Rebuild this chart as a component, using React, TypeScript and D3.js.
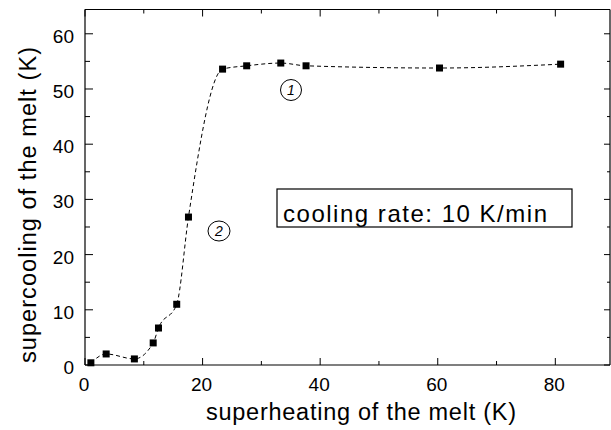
import React from "react";
import * as d3 from "d3";

const superheating = [1.0, 3.6, 8.4, 11.6, 12.5, 15.6, 17.6, 23.4, 27.5, 33.3, 37.6, 60.3, 80.9];
const supercooling = [0.4, 2.0, 1.1, 4.0, 6.7, 11.0, 26.8, 53.6, 54.2, 54.7, 54.2, 53.8, 54.5];
const xMajor = [0, 20, 40, 60, 80];
const xMinor = [10, 30, 50, 70];
const yMajor = [0, 10, 20, 30, 40, 50, 60];
const yMinor = [5, 15, 25, 35, 45, 55];

const W = 611;
const H = 430;
const FONT = "'Liberation Sans', Arial, Helvetica, sans-serif";

export default function App() {
  const left = 85;
  const right = 610;
  const top = 9.5;
  const bottom = 365;
  const x = d3.scaleLinear().domain([0, 89.3]).range([left, right]);
  const y = d3.scaleLinear().domain([0, 64.4]).range([bottom, top]);

  const pts: [number, number][] = superheating.map((v, i) => [v, supercooling[i]]);
  const line = d3
    .line<[number, number]>()
    .x((d) => x(d[0]))
    .y((d) => y(d[1]))
    .curve(d3.curveMonotoneX);

  const sq = 7;

  return (
    <svg
      width={W}
      height={H}
      style={{ position: "absolute", left: 0, top: 0, background: "#fff" }}
      fontFamily={FONT}
    >
      <rect x={0} y={0} width={W} height={H} fill="#fff" />
      <g stroke="#000" strokeWidth={1.2} fill="none">
        <line x1={left} x2={right} y1={top} y2={top} />
        <line x1={left} x2={right} y1={bottom} y2={bottom} />
        <line x1={left} x2={left} y1={top} y2={bottom} />
        <line x1={right} x2={right} y1={top} y2={bottom} />
      </g>
      <g stroke="#000" strokeWidth={1}>
        {xMajor.map((t) => (
          <g key={"xm" + t}>
            <line x1={x(t)} x2={x(t)} y1={bottom} y2={bottom - 7} />
            <line x1={x(t)} x2={x(t)} y1={top} y2={top + 7} />
          </g>
        ))}
        {xMinor.map((t) => (
          <g key={"xn" + t}>
            <line x1={x(t)} x2={x(t)} y1={bottom} y2={bottom - 4} />
            <line x1={x(t)} x2={x(t)} y1={top} y2={top + 4} />
          </g>
        ))}
        {yMajor.map((t) => (
          <g key={"ym" + t}>
            <line x1={left} x2={left + 8} y1={y(t)} y2={y(t)} />
            <line x1={right} x2={right - 6} y1={y(t)} y2={y(t)} />
          </g>
        ))}
        {yMinor.map((t) => (
          <g key={"yn" + t}>
            <line x1={left} x2={left + 5} y1={y(t)} y2={y(t)} />
            <line x1={right} x2={right - 3} y1={y(t)} y2={y(t)} />
          </g>
        ))}
      </g>
      <g fontSize={19} fill="#000">
        {xMajor.map((t) => (
          <text key={"xl" + t} x={x(t) - 1} y={391} textAnchor="middle">
            {t}
          </text>
        ))}
        {yMajor.map((t) => (
          <text key={"yl" + t} x={74} y={y(t) + 9} textAnchor="end">
            {t}
          </text>
        ))}
      </g>
      <text
        x={361}
        y={420}
        fontSize={23.5}
        textAnchor="middle"
        textLength={310}
        lengthAdjust="spacing"
      >
        superheating of the melt (K)
      </text>
      <text
        transform={`translate(36,205) rotate(-90)`}
        fontSize={23.5}
        textAnchor="middle"
        textLength={316}
        lengthAdjust="spacing"
      >
        supercooling of the melt (K)
      </text>
      <path
        d={line(pts) || ""}
        fill="none"
        stroke="#000"
        strokeWidth={1}
        strokeDasharray="4,3"
      />
      {pts.map((d, i) => (
        <rect
          key={"p" + i}
          x={x(d[0]) - sq / 2}
          y={y(d[1]) - sq / 2}
          width={sq}
          height={sq}
          fill="#000"
        />
      ))}
      <g fill="none" stroke="#000" strokeWidth={1}>
        <ellipse cx={291} cy={90} rx={10.5} ry={10.5} />
        <ellipse cx={219} cy={231} rx={11} ry={10} />
      </g>
      <g fontSize={14} fontStyle="italic" textAnchor="middle" fill="#000">
        <text x={291} y={95}>1</text>
        <text x={219} y={236}>2</text>
      </g>
      <rect x={277} y={189} width={295} height={38} fill="#fff" stroke="#000" strokeWidth={1.2} />
      <text x={283} y={222} fontSize={24} textLength={264} lengthAdjust="spacing">
        cooling rate: 10 K/min
      </text>
    </svg>
  );
}
